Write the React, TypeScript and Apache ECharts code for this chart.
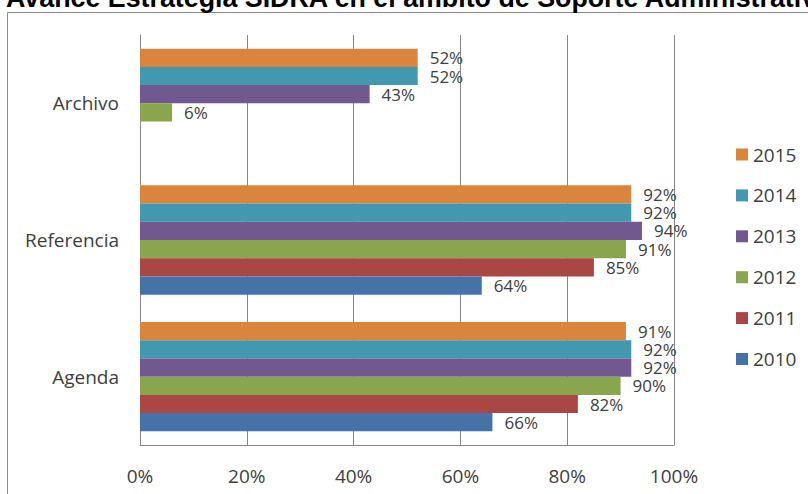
import React, { useEffect, useRef } from "react";
import * as echarts from "echarts";

const titleText = "Avance Estrategia SIDRA en el ámbito de Soporte Administrativo";
const categories = ["Agenda", "Referencia", "Archivo"];
const seriesNames = ["2015", "2014", "2013", "2012", "2011", "2010"];
const colors = ["#DB843D", "#4198AF", "#71588F", "#89A54E", "#AA4643", "#4572A7"];
const v2015 = [91, 92, 52];
const v2014 = [92, 92, 52];
const v2013 = [92, 94, 43];
const v2012 = [90, 91, 6];
const v2011 = [82, 85, null];
const v2010 = [66, 64, null];
const seriesValues = [v2015, v2014, v2013, v2012, v2011, v2010];
const xTicks = [0, 20, 40, 60, 80, 100];

export default function App() {
  const ref = useRef<HTMLDivElement>(null);
  useEffect(() => {
    if (!ref.current) return;
    const chart = echarts.init(ref.current, null, { renderer: "svg" });
    const textColor = "#404040";
    const font = "'Open Sans', 'DejaVu Sans', sans-serif";
    chart.setOption({
      animation: false,
      backgroundColor: "#ffffff",
      color: colors,
      graphic: [
        {
          type: "rect",
          shape: { x: 7.5, y: 12.5, width: 900, height: 600 },
          style: { fill: "none", stroke: "#8a8a8a", lineWidth: 1 },
          z: 0,
        },
        {
          type: "text",
          x: 6,
          y: -2,
          style: {
            text: titleText,
            fontFamily: "'Liberation Sans', Arial, sans-serif",
            fontWeight: "bold",
            fontSize: 26.8,
            fill: "#000000",
            verticalAlign: "middle",
            align: "left",
          },
          z: 10,
        },
      ],
      grid: { left: 140, top: 35, right: 134, bottom: 49, containLabel: false },
      legend: {
        orient: "vertical",
        left: 736,
        top: 145,
        padding: 0,
        itemWidth: 12,
        itemHeight: 12,
        itemGap: 21.9,
        icon: "rect",
        data: seriesNames,
        textStyle: { fontFamily: font, fontSize: 19, color: textColor, lineHeight: 18 },
      },
      xAxis: {
        type: "value",
        min: xTicks[0],
        max: xTicks[xTicks.length - 1],
        interval: 20,
        axisLine: { show: true, lineStyle: { color: "#868686", width: 1 } },
        axisTick: { show: false },
        splitLine: { show: true, lineStyle: { color: "#868686", width: 1 } },
        axisLabel: {
          formatter: "{value}%",
          fontFamily: font,
          fontSize: 19,
          color: textColor,
          margin: 21,
        },
      },
      yAxis: {
        type: "category",
        data: categories,
        axisLine: { show: true, lineStyle: { color: "#868686", width: 1 } },
        axisTick: { show: false },
        splitLine: { show: false },
        axisLabel: { fontFamily: font, fontSize: 19, color: textColor, margin: 21 },
      },
      series: seriesNames.map((name, i) => ({
        name,
        type: "bar",
        data: seriesValues[i].map((v) => (v === null ? "-" : v)),
        barGap: "0%",
        barCategoryGap: "20%",
        itemStyle: { color: colors[i] },
        label: {
          show: true,
          position: "right",
          distance: 12,
          formatter: "{c}%",
          fontFamily: font,
          fontSize: 17,
          color: textColor,
        },
      })),
    });
    return () => chart.dispose();
  }, []);
  return (
    <div
      ref={ref}
      style={{ position: "absolute", left: 0, top: 0, width: 808, height: 494 }}
    />
  );
}
